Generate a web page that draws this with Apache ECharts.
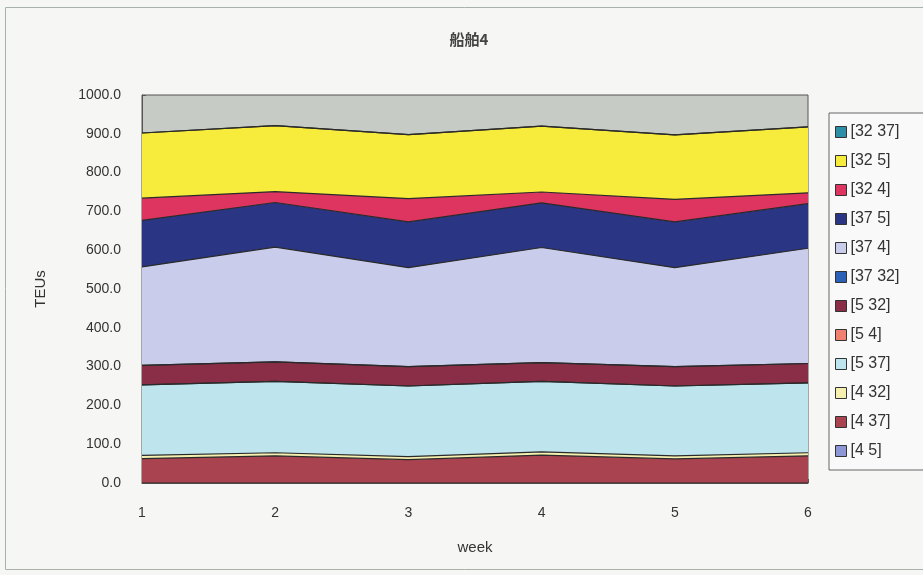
<!DOCTYPE html>
<html>
<head>
<meta charset="utf-8">
<script src="https://cdn.jsdelivr.net/npm/echarts@6/dist/echarts.min.js"></script>
<style>
  html, body { margin: 0; padding: 0; background: #f6f6f4; }
  #chart { width: 923px; height: 575px; }
</style>
</head>
<body>
<div id="chart"></div>
<script>
// Weeks on the x axis
const weeks = ['1', '2', '3', '4', '5', '6'];

// TEUs per route, stacked from the bottom up
const s_4_5   = [0, 0, 0, 0, 0, 0];
const s_4_37  = [63, 70, 60, 72, 62, 70];
const s_4_32  = [8, 8, 8, 8, 8, 8];
const s_5_37  = [182, 184, 182, 182, 180, 180];
const s_5_4   = [0, 0, 0, 0, 0, 0];
const s_5_32  = [50, 50, 50, 48, 50, 50];
const s_37_32 = [0, 0, 0, 0, 0, 0];
const s_37_4  = [254, 296, 255, 297, 255, 297];
const s_37_5  = [120, 115, 118, 115, 118, 115];
const s_32_4  = [57, 28, 60, 28, 58, 28];
const s_32_5  = [168, 170, 165, 170, 166, 170];
const s_32_37 = [0, 0, 0, 0, 0, 0];

const seriesNames = ['[4 5]', '[4 37]', '[4 32]', '[5 37]', '[5 4]', '[5 32]',
                     '[37 32]', '[37 4]', '[37 5]', '[32 4]', '[32 5]', '[32 37]'];
const seriesValues = [s_4_5, s_4_37, s_4_32, s_5_37, s_5_4, s_5_32,
                      s_37_32, s_37_4, s_37_5, s_32_4, s_32_5, s_32_37];
const seriesColors = ['#8e97d6', '#a8434f', '#f6f0b0', '#bee5ee', '#f08070', '#8a2e48',
                      '#2b62b8', '#c9cdeb', '#2a3584', '#dd3560', '#f7ec3c', '#2e8ea8'];

const font = '"Liberation Sans", "Noto Sans CJK JP", sans-serif';

const chart = echarts.init(document.getElementById('chart'), null, { renderer: 'canvas' });

chart.setOption({
  backgroundColor: '#f6f6f4',
  animation: false,
  title: {
    text: '船舶4',
    left: 464,
    top: 27,
    textAlign: 'center',
    textStyle: { fontFamily: '"Noto Sans CJK JP", sans-serif', fontSize: 15, fontWeight: 'bold', color: '#444' }
  },
  graphic: [{
    type: 'rect',
    shape: { x: 5.5, y: 7.5, width: 930, height: 562 },
    style: { fill: 'none', stroke: '#a6b2aa', lineWidth: 1 },
    z: -1
  }],
  grid: {
    left: 142, right: 115, top: 95, bottom: 92,
    show: true,
    backgroundColor: '#c7cbc5',
    borderColor: '#555',
    borderWidth: 1
  },
  legend: {
    orient: 'vertical',
    left: 829,
    top: 113,
    data: seriesNames.slice().reverse(),
    icon: 'rect',
    itemWidth: 11,
    itemHeight: 11,
    itemGap: 13,
    padding: [11, 30, 11, 6],
    backgroundColor: '#f9f9f9',
    borderColor: '#666',
    borderWidth: 1,
    borderRadius: 0,
    textStyle: { fontFamily: font, fontSize: 16, color: '#333', padding: [0, 0, 0, -1] },
    itemStyle: { borderColor: '#333', borderWidth: 1 }
  },
  xAxis: {
    type: 'category',
    data: weeks,
    boundaryGap: false,
    name: 'week',
    nameLocation: 'middle',
    nameGap: 57,
    nameTextStyle: { fontFamily: font, fontSize: 15, color: '#333' },
    axisLine: { lineStyle: { color: '#555' } },
    axisTick: { show: true, length: 4, inside: true, lineStyle: { color: '#555' } },
    axisLabel: { fontFamily: font, fontSize: 14, color: '#333', margin: 23 }
  },
  yAxis: {
    type: 'value',
    min: 0,
    max: 1000,
    interval: 100,
    name: 'TEUs',
    nameLocation: 'middle',
    nameGap: 94,
    nameRotate: 90,
    nameTextStyle: { fontFamily: font, fontSize: 15, color: '#333' },
    axisLine: { show: true, lineStyle: { color: '#555' } },
    axisTick: { show: true, length: 4, inside: true, lineStyle: { color: '#555' } },
    splitLine: { show: false },
    axisLabel: {
      fontFamily: font, fontSize: 14, color: '#333', margin: 21,
      formatter: v => v.toFixed(1)
    }
  },
  series: seriesNames.map((name, i) => ({
    name: name,
    type: 'line',
    stack: 'total',
    data: seriesValues[i],
    symbol: 'none',
    color: seriesColors[i],
    lineStyle: { color: '#2a2a2a', width: 1.2 },
    areaStyle: { color: seriesColors[i], opacity: 1 },
    itemStyle: { color: seriesColors[i], borderColor: '#333', borderWidth: 1 },
    z: 2
  }))
});
</script>
</body>
</html>
